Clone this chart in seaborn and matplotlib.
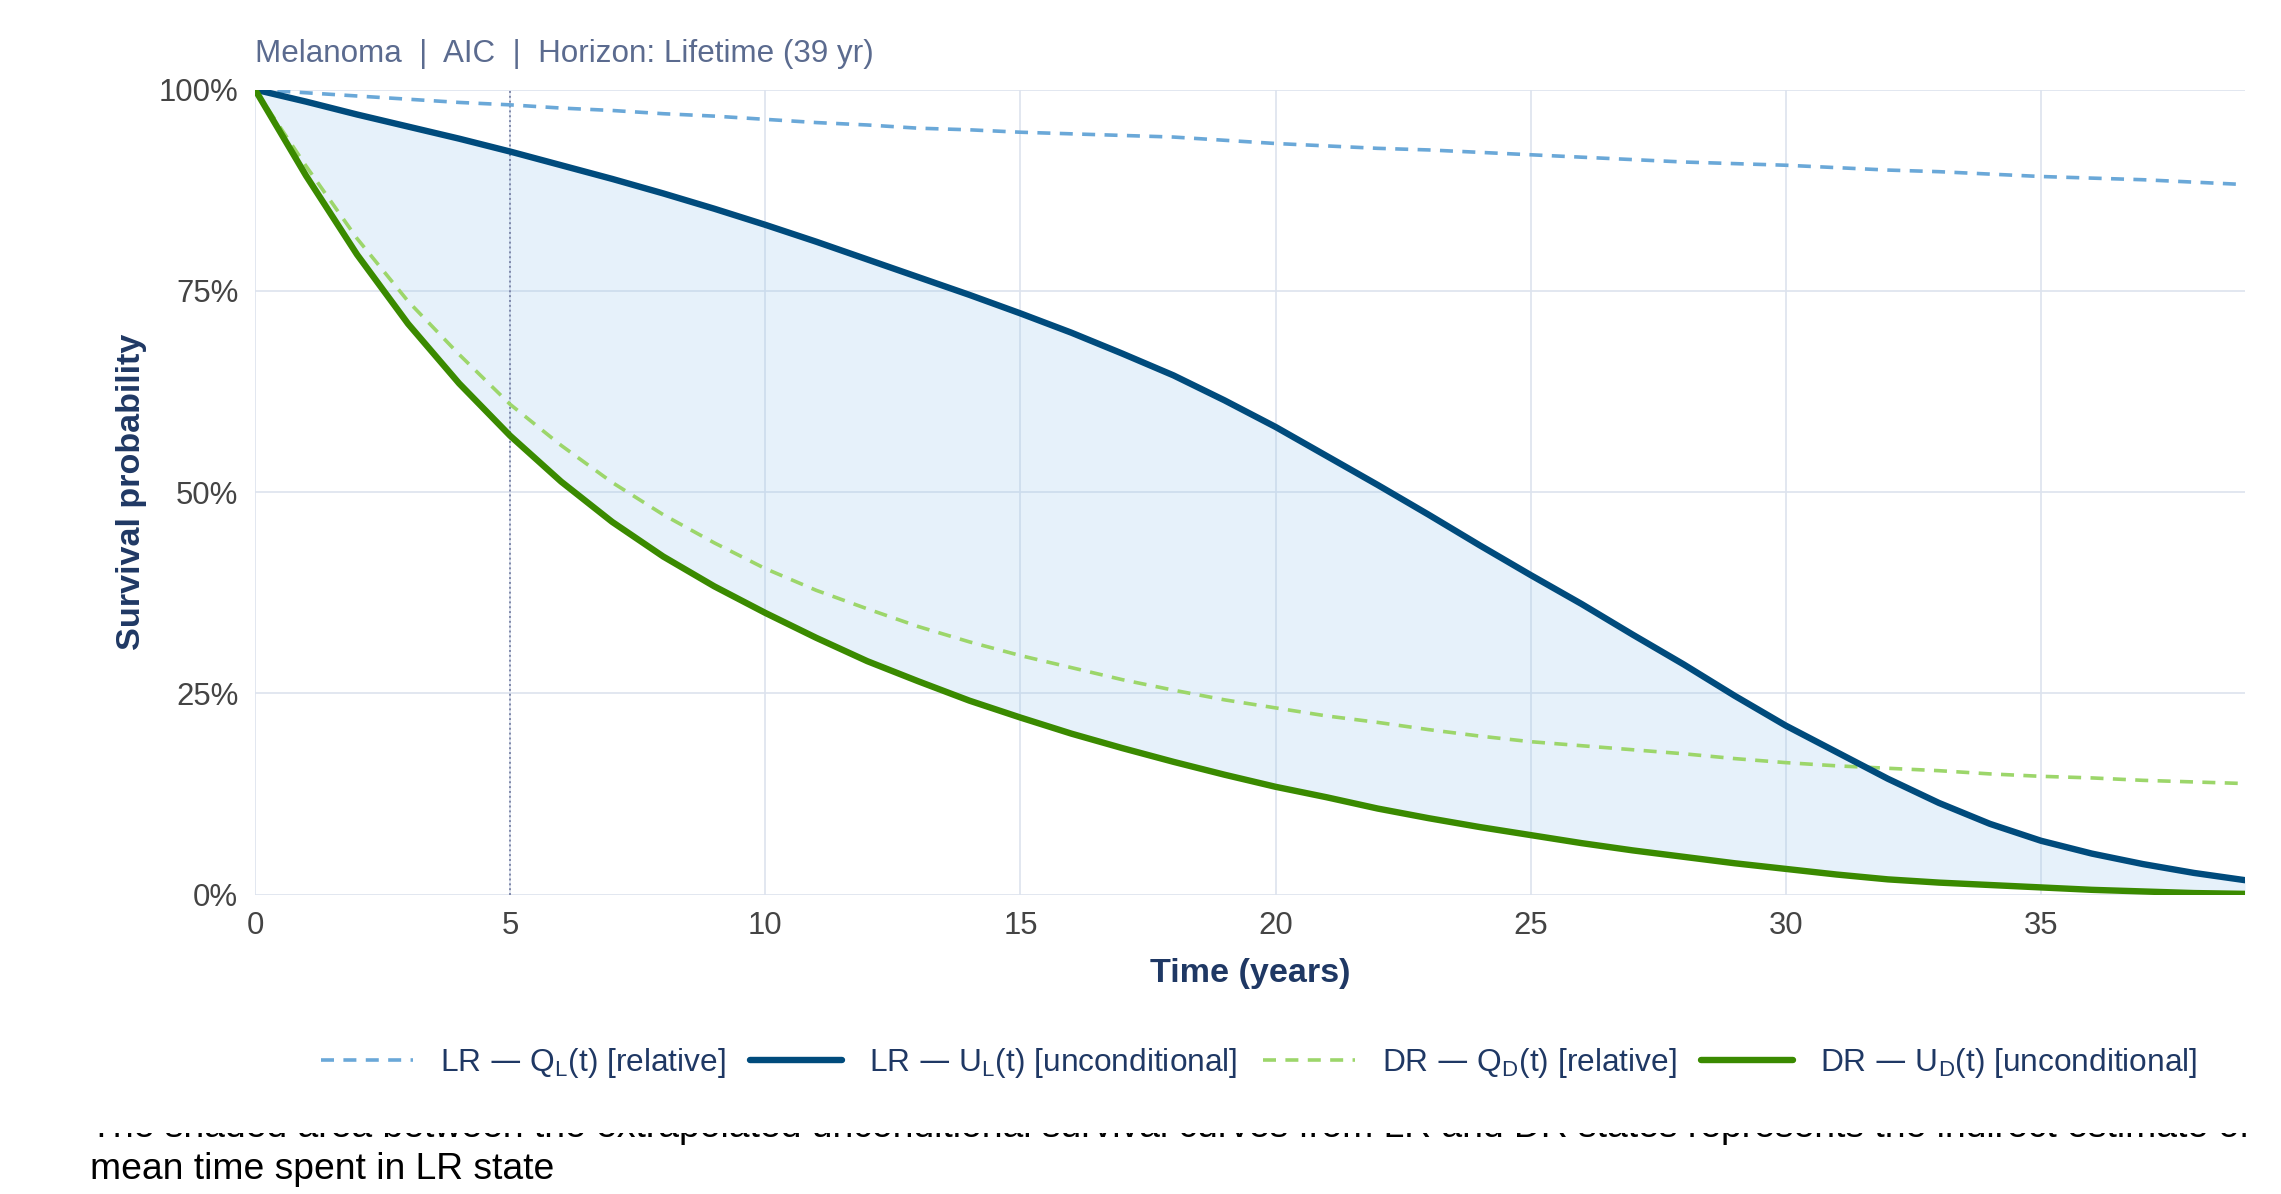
import numpy as np
import pandas as pd
import matplotlib
matplotlib.use('Agg')
import matplotlib.pyplot as plt
from matplotlib.ticker import PercentFormatter
from matplotlib.patches import Rectangle
import seaborn as sns

# --------------
# Data (yearly points)
# --------------
years = list(range(0, 40))

# LR relative survival Q_L(t)
q_lr = [1.000, 0.996, 0.992, 0.988, 0.984, 0.981, 0.977, 0.974, 0.970, 0.967,
        0.963, 0.959, 0.956, 0.952, 0.950, 0.947, 0.945, 0.943, 0.941, 0.937,
        0.933, 0.930, 0.927, 0.925, 0.922, 0.919, 0.916, 0.913, 0.910, 0.908,
        0.906, 0.903, 0.900, 0.898, 0.895, 0.892, 0.890, 0.888, 0.885, 0.882]

# LR unconditional survival U_L(t)
u_lr = [1.000, 0.985, 0.969, 0.954, 0.939, 0.923, 0.906, 0.889, 0.871, 0.852,
        0.832, 0.811, 0.789, 0.767, 0.745, 0.722, 0.698, 0.672, 0.645, 0.614,
        0.581, 0.545, 0.509, 0.472, 0.434, 0.397, 0.361, 0.323, 0.286, 0.247,
        0.210, 0.177, 0.144, 0.114, 0.088, 0.067, 0.051, 0.038, 0.027, 0.018]

# DR relative survival Q_D(t)
q_dr = [1.000, 0.905, 0.815, 0.737, 0.671, 0.609, 0.558, 0.512, 0.472, 0.437,
        0.405, 0.378, 0.355, 0.333, 0.314, 0.297, 0.282, 0.267, 0.254, 0.242,
        0.232, 0.222, 0.214, 0.205, 0.197, 0.190, 0.185, 0.180, 0.175, 0.169,
        0.164, 0.160, 0.157, 0.154, 0.150, 0.147, 0.145, 0.142, 0.140, 0.138]

# DR unconditional survival U_D(t)
u_dr = [1.000, 0.893, 0.795, 0.709, 0.635, 0.570, 0.513, 0.463, 0.420, 0.383,
        0.350, 0.319, 0.290, 0.265, 0.241, 0.220, 0.200, 0.182, 0.165, 0.149,
        0.134, 0.121, 0.107, 0.095, 0.084, 0.074, 0.064, 0.055, 0.047, 0.039,
        0.032, 0.025, 0.019, 0.015, 0.012, 0.009, 0.006, 0.004, 0.002, 0.001]

series_labels = [r'LR — Q$_\mathregular{L}$(t) [relative]',
                 r'LR — U$_\mathregular{L}$(t) [unconditional]',
                 r'DR — Q$_\mathregular{D}$(t) [relative]',
                 r'DR — U$_\mathregular{D}$(t) [unconditional]']
series_values = [q_lr, u_lr, q_dr, u_dr]
series_colors = ['#6aa8d8', '#004b7c', '#9cd66a', '#3a8a00']
series_dashed = [True, False, True, False]

landmark_year = 5
horizon = 39
title_text = 'Melanoma  |  AIC  |  Horizon: Lifetime (39 yr)'
caption_1 = ('The shaded area between the extrapolated unconditional survival curves '
             'from LR and DR states represents the indirect estimate of')
caption_2 = 'mean time spent in LR state'

# --------------
# Style
# --------------
sns.set_theme(style='whitegrid')
plt.rcParams['font.family'] = ['Liberation Sans', 'DejaVu Sans']
navy = '#1f3864'

fig = plt.figure(figsize=(11.405, 5.97), dpi=200)
ax = fig.add_axes([0.1118, 0.2507, 0.8724, 0.6743])

# shaded area between the unconditional curves
ax.fill_between(years, u_lr, u_dr, color='#9cc8ec', alpha=0.25, linewidth=0, zorder=1)

for lab, vals, col, dashed in zip(series_labels, series_values, series_colors, series_dashed):
    df = pd.DataFrame({'Year': years, 'Survival': vals})
    if dashed:
        sns.lineplot(data=df, x='Year', y='Survival', ax=ax, color=col,
                     linewidth=1.3, label=lab, zorder=3)
        ax.lines[-1].set_dashes((3.6, 2.6))
    else:
        sns.lineplot(data=df, x='Year', y='Survival', ax=ax, color=col,
                     linewidth=2.3, label=lab, zorder=4)

ax.axvline(landmark_year, color='#7f88aa', linewidth=0.7, linestyle=(0, (1, 1.5)), zorder=2)

ax.set_xlim(0, horizon)
ax.set_ylim(0, 1)
ax.set_xticks([0, 5, 10, 15, 20, 25, 30, 35])
ax.set_yticks([0, 0.25, 0.5, 0.75, 1.0])
ax.yaxis.set_major_formatter(PercentFormatter(1.0, decimals=0))
ax.grid(True, color='#dde3ee', linewidth=0.6)
for s in ax.spines.values():
    s.set_visible(False)
ax.tick_params(axis='both', length=0, labelsize=11.2, colors='#444444')
ax.tick_params(axis='y', pad=6)
ax.tick_params(axis='x', pad=6)

ax.set_xlabel('Time (years)', fontsize=12.3, fontweight='bold', color=navy, labelpad=6)
ax.set_ylabel('Survival probability', fontsize=12.3, fontweight='bold', color=navy, labelpad=4)
ax.set_title(title_text, loc='left', fontsize=11.3, color='#5b6b8f', pad=10)

# legend below the plot
ax.get_legend().remove()
handles, labels = ax.get_legend_handles_labels()
leg = fig.legend(handles, labels, loc='center', bbox_to_anchor=(0.552, 0.1097), ncol=4,
                 frameon=False, fontsize=11.4, handlelength=2.9, handletextpad=0.85,
                 columnspacing=0.8, labelcolor=navy)

# caption (first line partly hidden, as in the source)
fig.text(0.0395, 0.0477, caption_1, fontsize=13.4, color='black', va='baseline', zorder=3)
fig.text(0.0395, 0.01256, caption_2, fontsize=13.4, color='black', va='baseline', zorder=3)
fig.patches.append(Rectangle((0, 0.0511), 1, 0.032, transform=fig.transFigure,
                             facecolor='white', edgecolor='none', zorder=10))

fig.savefig('out.png', dpi=200, facecolor='white')
plt.close(fig)
print('// complete ....... script')
